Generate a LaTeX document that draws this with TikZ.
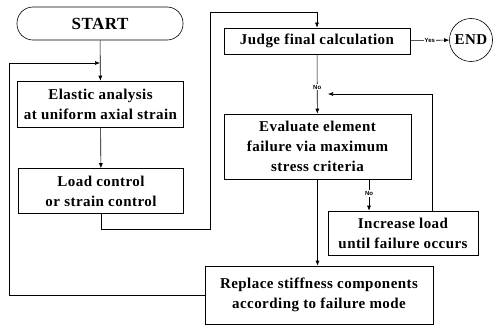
\documentclass[tikz,border=0pt]{standalone}
\usepackage{fontspec}
\setmainfont{Liberation Serif}[LetterSpace=3]
\setsansfont{Liberation Sans}
\usetikzlibrary{arrows.meta}

\begin{document}
\begin{tikzpicture}[x=1pt,y=-1pt,line width=0.6pt,>={Latex[length=5pt,width=4pt]},
	stepbox/.style={draw,align=center,inner sep=2pt,font=\rmfamily\bfseries\fontsize{15}{20}\selectfont},
	yesno/.style={fill=white,inner sep=1pt,font=\sffamily\bfseries\fontsize{6}{7}\selectfont}]
	\useasboundingbox (0,0) rectangle (495,329);
	% start and end
		\node[stepbox,rounded corners=16pt,minimum width=166,minimum height=33,font=\rmfamily\bfseries\fontsize{17}{20}\selectfont] (start) at (100,23.5) {START};
		\node[stepbox,circle,inner sep=0pt,minimum size=43] (final) at (471,40) {END};
	% left column
		\node[stepbox,minimum width=166,minimum height=46] (elastic) at (100.5,104) {Elastic analysis\\at uniform axial strain};
		\node[stepbox,minimum width=165,minimum height=45] (load) at (101,191) {Load control\\or strain control};
	% right column
		\node[stepbox,minimum width=186,minimum height=26] (judge) at (317,41) {Judge final calculation};
		\node[stepbox,minimum width=187,minimum height=65] (evaluate) at (317.5,146.5) {Evaluate element\\failure via maximum\\stress criteria};
		\node[stepbox,minimum width=150,minimum height=44] (increase) at (403,233) {Increase load\\until failure occurs};
		\node[stepbox,minimum width=228,minimum height=58] (replace) at (319,295) {Replace stiffness components\\according to failure mode};
	% loop entries
		\coordinate (loopin) at (100,63);
		\coordinate (backin) at (328,94);
	% connectors
		\draw[->] (start) -- (elastic);
		\draw[->] (elastic) -- (load);
		\draw[->] (load.south) -- ++(0,15) -- ++(109,0) -- ++(0,-216.5) -| (judge.north);
		\draw[->] (judge) -- node[yesno] {Yes} (final);
		\draw[->] (judge) -- node[yesno,pos=0.55] {No} (evaluate);
		\draw[->] (evaluate.south) -- (evaluate.south |- replace.north);
		\draw[->] ([xshift=51.5]evaluate.south) -- node[yesno,pos=0.45] {No} ([xshift=51.5]evaluate.south |- increase.north);
		\draw[->] ([xshift=29]increase.north) |- (backin);
		\draw[->] (replace.west) -- ++(-195,0) |- (loopin);
\end{tikzpicture}
\end{document}
